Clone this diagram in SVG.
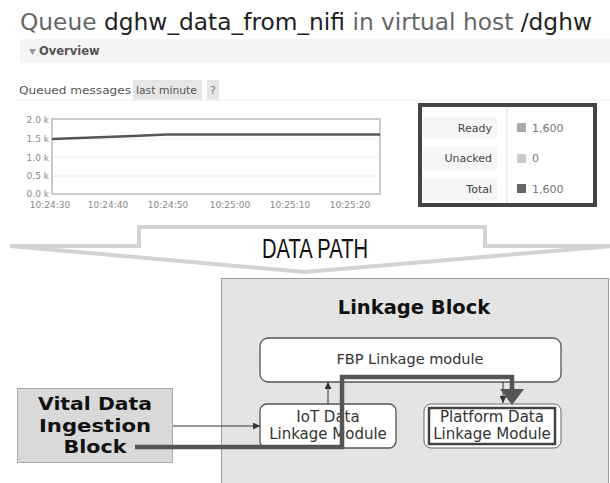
<svg xmlns="http://www.w3.org/2000/svg" width="610" height="483" viewBox="0 0 610 483">
<defs>
<style>
.t{font-family:"DejaVu Sans",Verdana,sans-serif}
.ax{font-family:"DejaVu Sans",Verdana,sans-serif;font-size:9px;fill:#888}
.lbl{font-family:"DejaVu Sans",Verdana,sans-serif;font-size:11px;fill:#444}
.val{font-family:"DejaVu Sans",Verdana,sans-serif;font-size:11px;fill:#777}
.mod{fill:#fff;stroke:#555;stroke-width:1.3}
.mt{font-family:"DejaVu Sans",Verdana,sans-serif;font-size:15px;fill:#333;text-anchor:middle}
.vt{font-family:"DejaVu Sans",Verdana,sans-serif;font-size:18px;font-weight:bold;fill:#111;text-anchor:middle}
.thin{stroke:#333;stroke-width:1;fill:none}
</style>
<marker id="ah" viewBox="0 0 10 10" refX="10" refY="5" markerWidth="7" markerHeight="7" orient="auto" markerUnits="userSpaceOnUse">
<path d="M0,0 L10,5 L0,10 z" fill="#333"/>
</marker>
</defs>
<rect width="610" height="483" fill="#fff"/>

<g id="rabbit-panel">
<text class="t" x="20" y="30" font-size="22.5" textLength="572" lengthAdjust="spacingAndGlyphs"><tspan fill="#666">Queue </tspan><tspan fill="#222">dghw_data_from_nifi</tspan><tspan fill="#666"> in virtual host </tspan><tspan fill="#222">/dghw</tspan></text>
<rect x="20" y="39" width="590" height="24" fill="#f4f4f4"/>
<path d="M29,49 L36,49 L32.5,55 z" fill="#999"/>
<text class="t" x="39" y="55" font-size="11.5" font-weight="bold" fill="#555">Overview</text>
<text class="t" x="19" y="94" font-size="11" fill="#555" textLength="112" lengthAdjust="spacingAndGlyphs">Queued messages</text>
<rect x="133" y="80" width="69" height="20" fill="#e6e6e6"/>
<text class="t" x="136" y="94" font-size="11" fill="#555" textLength="61" lengthAdjust="spacingAndGlyphs">last minute</text>
<rect x="207" y="80" width="12" height="20" fill="#e6e6e6"/>
<text class="t" x="213" y="94" font-size="11" fill="#777" text-anchor="middle">?</text>
<line x1="18" y1="100" x2="610" y2="100" stroke="#eee" stroke-width="1"/>

<g id="chart">
<line x1="52" y1="139" x2="380" y2="139" stroke="#eee"/>
<line x1="52" y1="157" x2="380" y2="157" stroke="#eee"/>
<line x1="52" y1="176" x2="380" y2="176" stroke="#eee"/>
<rect x="52" y="119" width="328" height="75" fill="none" stroke="#bbb" stroke-width="1.5"/>
<text class="ax" x="49" y="123" text-anchor="end">2.0 k</text>
<text class="ax" x="49" y="142" text-anchor="end">1.5 k</text>
<text class="ax" x="49" y="161" text-anchor="end">1.0 k</text>
<text class="ax" x="49" y="179" text-anchor="end">0.5 k</text>
<text class="ax" x="49" y="197" text-anchor="end">0.0 k</text>
<text class="ax" x="50" y="208" text-anchor="middle">10:24:30</text>
<text class="ax" x="108" y="208" text-anchor="middle">10:24:40</text>
<text class="ax" x="168" y="208" text-anchor="middle">10:24:50</text>
<text class="ax" x="230" y="208" text-anchor="middle">10:25:00</text>
<text class="ax" x="290" y="208" text-anchor="middle">10:25:10</text>
<text class="ax" x="350" y="208" text-anchor="middle">10:25:20</text>
<polyline points="52,139 133,136 167,134.5 380,134.5" fill="none" stroke="#555" stroke-width="2.5"/>
</g>

<g id="stats">
<rect x="423" y="117" width="74" height="21" fill="#f6f6f6"/>
<rect x="423" y="147" width="74" height="23" fill="#f6f6f6"/>
<rect x="423" y="178" width="74" height="23" fill="#f6f6f6"/>
<line x1="507" y1="105" x2="507" y2="203" stroke="#ddd"/>
<text class="lbl" x="492" y="132" text-anchor="end">Ready</text>
<text class="lbl" x="492" y="162" text-anchor="end">Unacked</text>
<text class="lbl" x="492" y="193" text-anchor="end">Total</text>
<rect x="517" y="123" width="9" height="9" fill="#aaa"/>
<rect x="517" y="154" width="9" height="9" fill="#ccc"/>
<rect x="517" y="184" width="9" height="9" fill="#666"/>
<text class="val" x="532" y="132">1,600</text>
<text class="val" x="532" y="162">0</text>
<text class="val" x="532" y="193">1,600</text>
<rect x="420" y="105" width="175" height="100" fill="none" stroke="#444" stroke-width="4"/>
</g>
</g>

<g id="data-path">
<polygon points="10,246 139,246 139,227 485,227 485,246 612,246 305,272" fill="#fff" stroke="#d3d3d3" stroke-width="4" stroke-linejoin="miter"/>
<text x="315" y="258" font-family="'Liberation Sans',Arial,sans-serif" font-size="28" fill="#111" text-anchor="middle" textLength="106" lengthAdjust="spacingAndGlyphs">DATA PATH</text>
</g>

<g id="linkage-block">
<rect x="221.5" y="278.5" width="387" height="210" fill="#e4e4e4" stroke="#999" stroke-width="1"/>
<text class="t" x="414" y="314" font-size="19.5" font-weight="bold" fill="#111" text-anchor="middle">Linkage Block</text>
</g>

<g id="fbp">
<rect class="mod" x="260" y="338" width="301" height="44" rx="8"/>
<text class="t" x="410" y="364" font-size="14.5" fill="#333" text-anchor="middle">FBP Linkage module</text>
</g>

<g id="iot">
<rect class="mod" x="260" y="404" width="136" height="44" rx="7"/>
<text class="mt" x="328" y="422">IoT Data</text>
<text class="mt" x="328" y="439">Linkage Module</text>
</g>

<g id="platform">
<rect x="424" y="404" width="137" height="44" rx="7" fill="#fff" stroke="#666" stroke-width="1"/>
<rect x="429" y="408" width="126" height="36" fill="#fff" stroke="#444" stroke-width="2.5"/>
<text class="mt" x="492" y="422">Platform Data</text>
<text class="mt" x="492" y="439">Linkage Module</text>
</g>

<g id="vital">
<rect x="17.5" y="388.5" width="155" height="74" fill="#d9d9d9" stroke="#aaa" stroke-width="1"/>
<text class="vt" x="95" y="410" textLength="114" lengthAdjust="spacingAndGlyphs">Vital Data</text>
<text class="vt" x="95" y="431.5" textLength="112" lengthAdjust="spacingAndGlyphs">Ingestion</text>
<text class="vt" x="95" y="453" textLength="63" lengthAdjust="spacingAndGlyphs">Block</text>
</g>

<g id="connectors">
<line class="thin" x1="173" y1="426" x2="260" y2="426" marker-end="url(#ah)"/>
<line class="thin" x1="328" y1="404" x2="328" y2="382" marker-end="url(#ah)"/>
<line class="thin" x1="503" y1="382" x2="503" y2="403" marker-end="url(#ah)"/>
<polyline points="135,447 342,447 342,377 512,377 512,392" fill="none" stroke="#555" stroke-width="4.5" stroke-linejoin="miter"/>
<path d="M500,389 L524,389 L512,405 z" fill="#555"/>
</g>
</svg>
